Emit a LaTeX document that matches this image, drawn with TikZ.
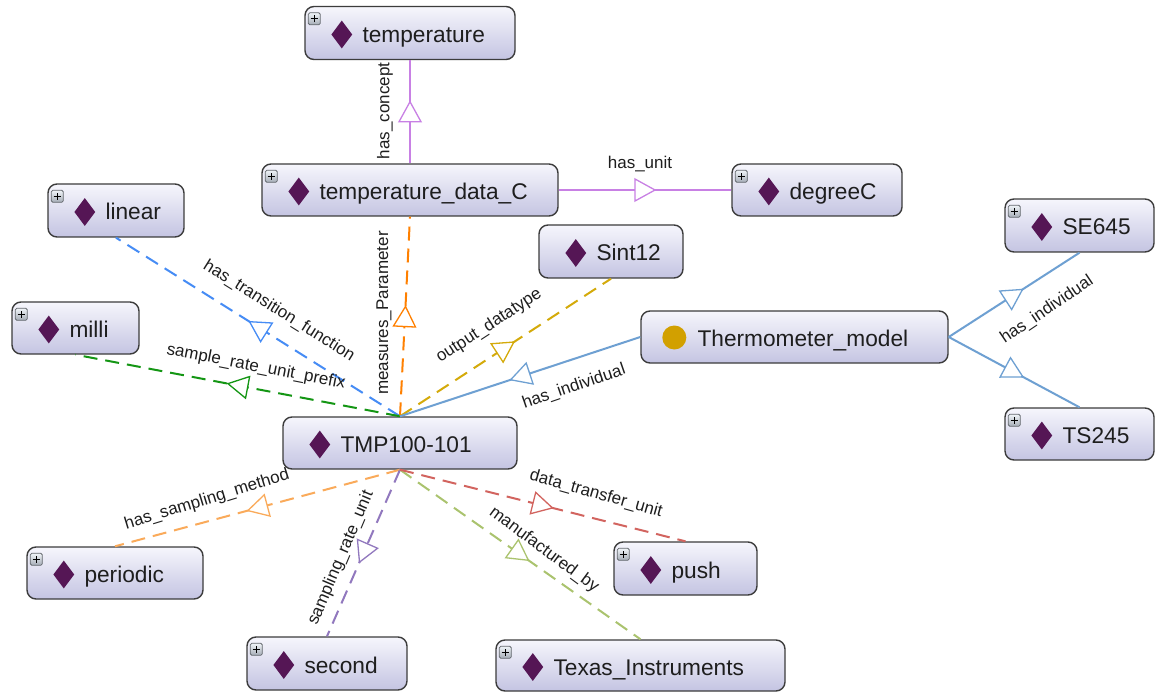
\documentclass[tikz,border=0pt]{standalone}
\usepackage{fontspec}
\setmainfont{Liberation Sans}
\usetikzlibrary{shapes.geometric,decorations.markings,calc}
\definecolor{nodeborder}{RGB}{60,60,60}
\definecolor{nodetop}{RGB}{246,246,252}
\definecolor{nodebot}{RGB}{196,196,226}
\definecolor{diapurple}{RGB}{85,22,85}
\definecolor{circgold}{RGB}{210,160,0}
\definecolor{txt}{RGB}{30,30,30}
\definecolor{cviolet}{RGB}{200,128,228}
\definecolor{corange}{RGB}{255,128,0}
\definecolor{cblue}{RGB}{70,140,245}
\definecolor{cgreen}{RGB}{20,150,20}
\definecolor{cgold}{RGB}{212,170,10}
\definecolor{csteel}{RGB}{110,160,210}
\definecolor{csandy}{RGB}{250,170,90}
\definecolor{cpurple}{RGB}{145,120,190}
\definecolor{cygreen}{RGB}{170,195,110}
\definecolor{cred}{RGB}{210,100,95}
\definecolor{plusborder}{RGB}{100,105,110}
\definecolor{plustop}{RGB}{240,244,248}
\definecolor{plusbot}{RGB}{165,172,182}
\tikzset{
  entbox/.style={draw=nodeborder, line width=1.4pt, rounded corners=9pt,
    top color=nodetop, bottom color=nodebot, inner sep=0pt},
  dia/.style={diamond, fill=diapurple, inner sep=0pt, minimum width=21pt, minimum height=28pt},
  ttext/.style={anchor=base west, inner sep=0pt, font=\fontsize{22.7}{27}\selectfont, text=txt},
  elab/.style={inner sep=0pt, font=\fontsize{17}{20}\selectfont, text=txt},
  plusbox/.style={rectangle, minimum size=12pt, inner sep=0pt, draw=plusborder, line width=0.8pt,
    rounded corners=1.5pt, top color=plustop, bottom color=plusbot,
    path picture={\draw[line width=1.4pt, black]
      ($(path picture bounding box.center)+(-3.6pt,0pt)$) -- ++(7.2pt,0pt)
      ($(path picture bounding box.center)+(0pt,-3.6pt)$) -- ++(0pt,7.2pt);}},
  dashedge/.style={dash pattern=on 14pt off 8pt, line width=2pt},
  solidedge/.style={line width=2pt},
  tri/.style={postaction={decorate}, decoration={markings, mark=at position 0.5 with
    {\draw[solid, line width=1.3pt, draw=#1, fill=white, line join=miter]
      (10pt,0pt) -- (-10pt,11pt) -- (-10pt,-11pt) -- cycle;}}},
}
\newcommand\entity[7]{%
  \node[entbox, minimum width=#4pt, minimum height=#5pt] (#1) at (#2,#3) {};
  \node[dia] at ($(#1.west)+(37.5,1.5)$) {};
  \node[ttext] at ($(#1.west)+(58,9.5)$) {#6};
  \ifnum#7=1 \node[plusbox] at ($(#1.north west)+(10,13)$) {};\fi
}
\begin{document}
\begin{tikzpicture}[x=1pt,y=-1pt]
\fill[white] (0,0) rectangle (1155,692);
\useasboundingbox (0,0) rectangle (1155,692);

% nodes
\entity{temp}{410}{33}{210}{53}{temperature}{1}
\entity{tdc}{410}{190}{296}{52}{temperature\_data\_C}{1}
\entity{degc}{817}{190}{170}{52}{degreeC}{1}
\entity{linear}{116}{210.5}{136}{53}{linear}{1}
\entity{sint}{611}{251.5}{144}{53}{Sint12}{0}
\entity{se}{1079.5}{225.5}{149}{53}{SE645}{1}
\entity{milli}{75.5}{328}{127}{52}{milli}{1}
\entity{ts}{1079.5}{434}{149}{52}{TS245}{1}
\entity{tmp}{400}{443}{234}{52}{TMP100-101}{0}
\entity{periodic}{115}{573}{176}{52}{periodic}{1}
\entity{push}{685.5}{568.5}{143}{53}{push}{1}
\entity{second}{327}{663.5}{160}{53}{second}{1}
\entity{texas}{640.5}{665.5}{289}{51}{Texas\_Instruments}{1}
\node[entbox, minimum width=307pt, minimum height=52pt] (thermo) at (794.5,337) {};
\node[circle, fill=circgold, inner sep=0pt, minimum size=24pt] (thermodot) at ($(thermo.west)+(34,0.5)$) {};
\node[ttext] (thermotext) at ($(thermo.west)+(57,9.5)$) {Thermometer\_model};

% connectors
\draw[solidedge, cviolet, tri=cviolet] (tdc.north) -- (temp.south);
\draw[solidedge, cviolet, tri=cviolet] (tdc.east) -- (degc.west);
\draw[dashedge, corange, tri=corange] (tmp.north) -- (tdc.south);
\draw[dashedge, cblue, tri=cblue] (tmp.north) -- (linear.south);
\draw[dashedge, cgreen, tri=cgreen] (tmp.north) -- (milli.south);
\draw[dashedge, cgold, tri=cgold] (tmp.north) -- (sint.south);
\draw[solidedge, csteel, tri=csteel] (thermo.west) -- (tmp.north);
\draw[solidedge, csteel, tri=csteel] (thermo.east) -- (se.south);
\draw[solidedge, csteel, tri=csteel] (thermo.east) -- (ts.north);
\draw[dashedge, csandy, tri=csandy] (tmp.south) -- (periodic.north);
\draw[dashedge, cpurple, tri=cpurple] (tmp.south) -- (second.north);
\draw[dashedge, cygreen, tri=cygreen] (tmp.south) -- (texas.north);
\draw[dashedge, cred, tri=cred] (tmp.south) -- (push.north);

% labels
\node[elab, rotate=90] (lconcept) at (385,111) {has\_concept};
\node[elab] (lunit) at (640,164) {has\_unit};
\node[elab, rotate=90] (lmeas) at (384,313) {measures\_Parameter};
\node[elab, rotate=-32] (ltrans) at (279,311) {has\_transition\_function};
\node[elab, rotate=-11] (lprefix) at (256,367) {sample\_rate\_unit\_prefix};
\node[elab, rotate=33] (lout) at (489,326) {output\_datatype};
\node[elab, rotate=19] (lind1) at (574,387) {has\_individual};
\node[elab, rotate=34] (lind2) at (1047,310) {has\_individual};
\node[elab, rotate=17] (lsamp) at (207,500) {has\_sampling\_method};
\node[elab, rotate=67] (lrate) at (341,558) {sampling\_rate\_unit};
\node[elab, rotate=-36.5] (lmanu) at (544,550) {manufactured\_by};
\node[elab, rotate=-15.8] (ldata) at (596,494) {data\_transfer\_unit};
\end{tikzpicture}
\end{document}
